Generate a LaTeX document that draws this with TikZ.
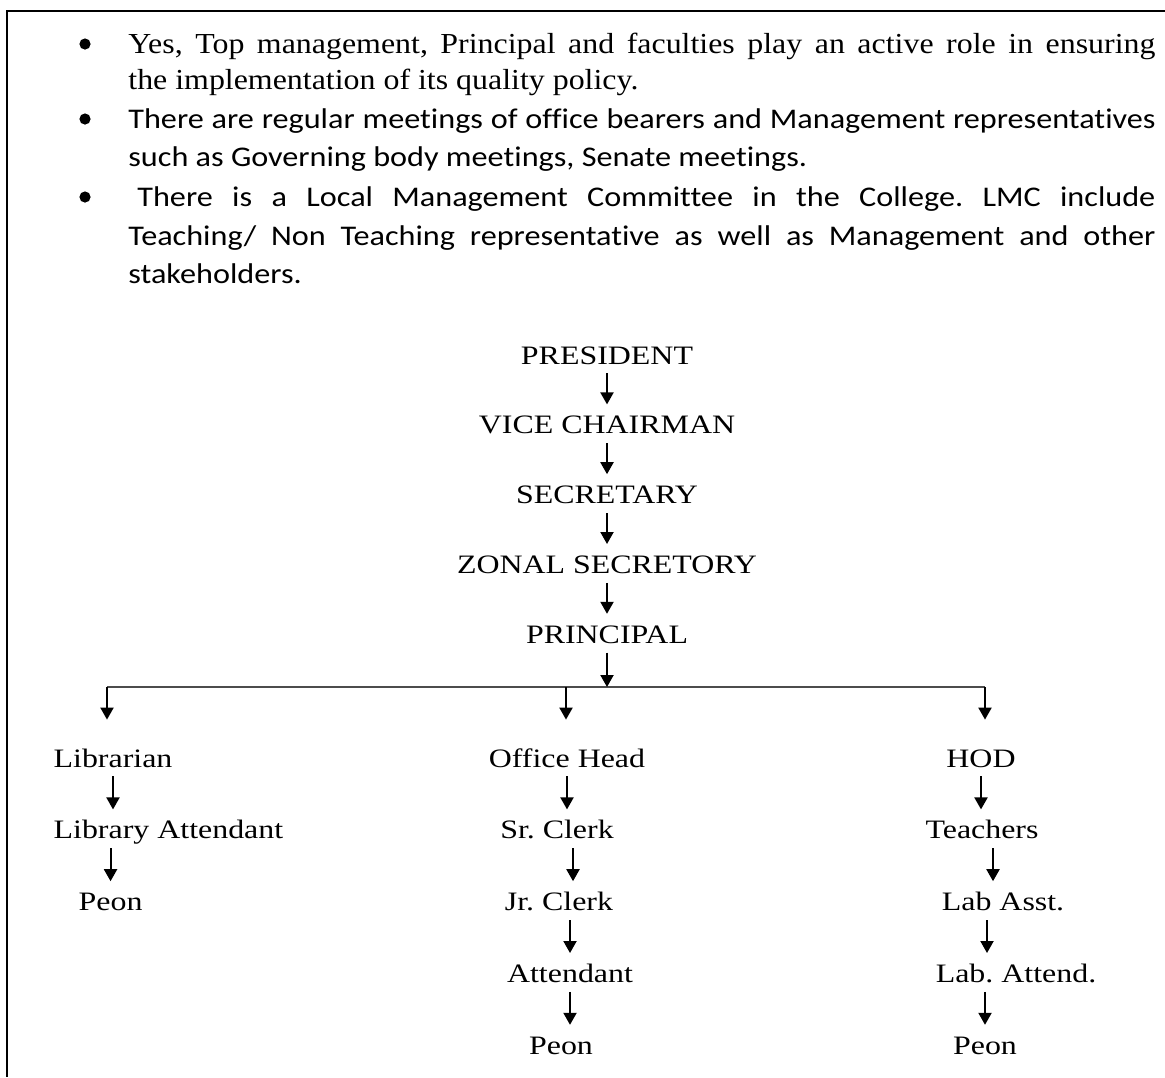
\documentclass[tikz,border=0pt]{standalone}
\usepackage{fontspec}
\newfontfamily\timesfont[FakeStretch=1.1,Ligatures=NoCommon]{Liberation Serif}
\newfontfamily\calibfont[FakeStretch=1.13,Ligatures=NoCommon]{Carlito}
\newfontfamily\chartfont[FakeStretch=1.2]{Liberation Serif}
\usepackage{tikz}
\usetikzlibrary{positioning}
\usetikzlibrary{arrows.meta}
\tikzset{>={Triangle[length=6pt,width=6.5pt]}}
\frenchspacing

\begin{document}
\begin{tikzpicture}
	[x=0.5pt,y=-0.5pt,
	fullline/.style={anchor=base west,inner sep=0pt,text width=513.5pt,align=justify,
		execute at begin node={\parfillskip=0pt\tolerance=10000\relax\noindent}},
	lastline/.style={anchor=base west,inner sep=0pt},
	serifline/.style={font=\timesfont\fontsize{14.5pt}{17pt}\selectfont},
	sansline/.style={font=\calibfont\fontsize{14.25pt}{17pt}\selectfont},
	post/.style={font=\chartfont\fontsize{13.3pt}{16pt}\selectfont,inner sep=0pt,text height=14.5pt,text depth=4.5pt},
	link/.style={->,line width=1pt}]
	\useasboundingbox (0,0) rectangle (1165,1077);
	\draw[line width=1pt] (1165,11) -- (7,11) -- (7,1077);
	% bullet list
	\foreach \y in {44,119,197}
		\fill (85,\y) circle (2.8pt);
	\node[fullline,serifline] (yes) at (128,53) {Yes, Top management, Principal and faculties play an active role in ensuring};
	\node[lastline,serifline] (yes2) at (128,89) {the implementation of its quality policy.};
	\node[fullline,sansline] (meet) at (128,128) {There are regular meetings of office bearers and Management representatives};
	\node[lastline,sansline] (meet2) at (128,166) {such as Governing body meetings, Senate meetings.};
	\node[fullline,sansline] (lmc) at (128,206) {\hspace*{4.5pt}There is a Local Management Committee in the College. LMC include};
	\node[fullline,sansline] (lmc2) at (128,245) {Teaching/ Non Teaching representative as well as Management and other};
	\node[lastline,sansline] (lmc3) at (128,283) {stakeholders.};
	% top of the chart
	\node[post,anchor=base] (pres) at (607,364) {PRESIDENT};
	\node[post,below=15.5pt of pres] (vice) {VICE CHAIRMAN};
	\node[post,below=15.5pt of vice] (sec) {SECRETARY};
	\node[post,below=15.5pt of sec] (zonal) {ZONAL SECRETORY};
	\node[post,below=15.5pt of zonal] (prin) {PRINCIPAL};
	\draw[link] (pres) -- (vice);
	\draw[link] (vice) -- (sec);
	\draw[link] (sec) -- (zonal);
	\draw[link] (zonal) -- (prin);
	\coordinate (barL) at (107,687);
	\coordinate (barM) at (566,687);
	\coordinate (barR) at (985,687);
	\draw[line width=1.3pt,black!70] (barL) -- (barR);
	\draw[link] (prin.south) -- (prin.south |- barM);
	% three branches
	\node[post,anchor=base] (lib) at (113,767) {Librarian};
	\node[post,below=16.5pt of lib.south west,anchor=north west] (libatt) {Library Attendant};
	\node[post,below=16.5pt of libatt.south west,anchor=north west,xshift=12.5pt] (libpeon) {Peon};
	\node[post,anchor=base] (head) at (567,767) {Office Head};
	\node[post,below=16.5pt of head,xshift=-5pt] (sr) {Sr. Clerk};
	\node[post,below=16.5pt of sr,xshift=1pt] (jr) {Jr. Clerk};
	\node[post,below=16.5pt of jr,xshift=5.5pt] (att) {Attendant};
	\node[post,below=16.5pt of att,xshift=-4.5pt] (offpeon) {Peon};
	\node[post,anchor=base] (hod) at (981,767) {HOD};
	\node[post,below=16.5pt of hod,xshift=0.5pt] (teach) {Teachers};
	\node[post,below=16.5pt of teach,xshift=10.5pt] (labasst) {Lab Asst.};
	\node[post,below=16.5pt of labasst,xshift=6.5pt] (labatt) {Lab. Attend.};
	\node[post,below=16.5pt of labatt,xshift=-15.5pt] (labpeon) {Peon};
	\draw[link] (barL) -- ([yshift=9pt]barL |- lib.north);
	\draw[link] (barM) -- ([yshift=9pt]barM |- head.north);
	\draw[link] (barR) -- ([yshift=9pt]barR |- hod.north);
	\draw[link] (lib.south) -- (lib.south |- libatt.north);
	\draw[link] (libatt.south -| libpeon) -- (libpeon.north);
	\draw[link] (head.south) -- (head.south |- sr.north);
	\draw[link] ([xshift=8pt]sr.south) -- ([xshift=8pt]sr.south |- jr.north);
	\draw[link] (jr.south -| att) -- (att.north);
	\draw[link] (att.south) -- (att.south |- offpeon.north);
	\draw[link] (hod.south) -- (hod.south |- teach.north);
	\draw[link] ([xshift=5.5pt]teach.south) -- ([xshift=5.5pt]teach.south |- labasst.north);
	\draw[link] ([xshift=-8pt]labasst.south) -- ([xshift=-8pt]labasst.south |- labatt.north);
	\draw[link] (labatt.south -| labpeon) -- (labpeon.north);
\end{tikzpicture}
\end{document}
